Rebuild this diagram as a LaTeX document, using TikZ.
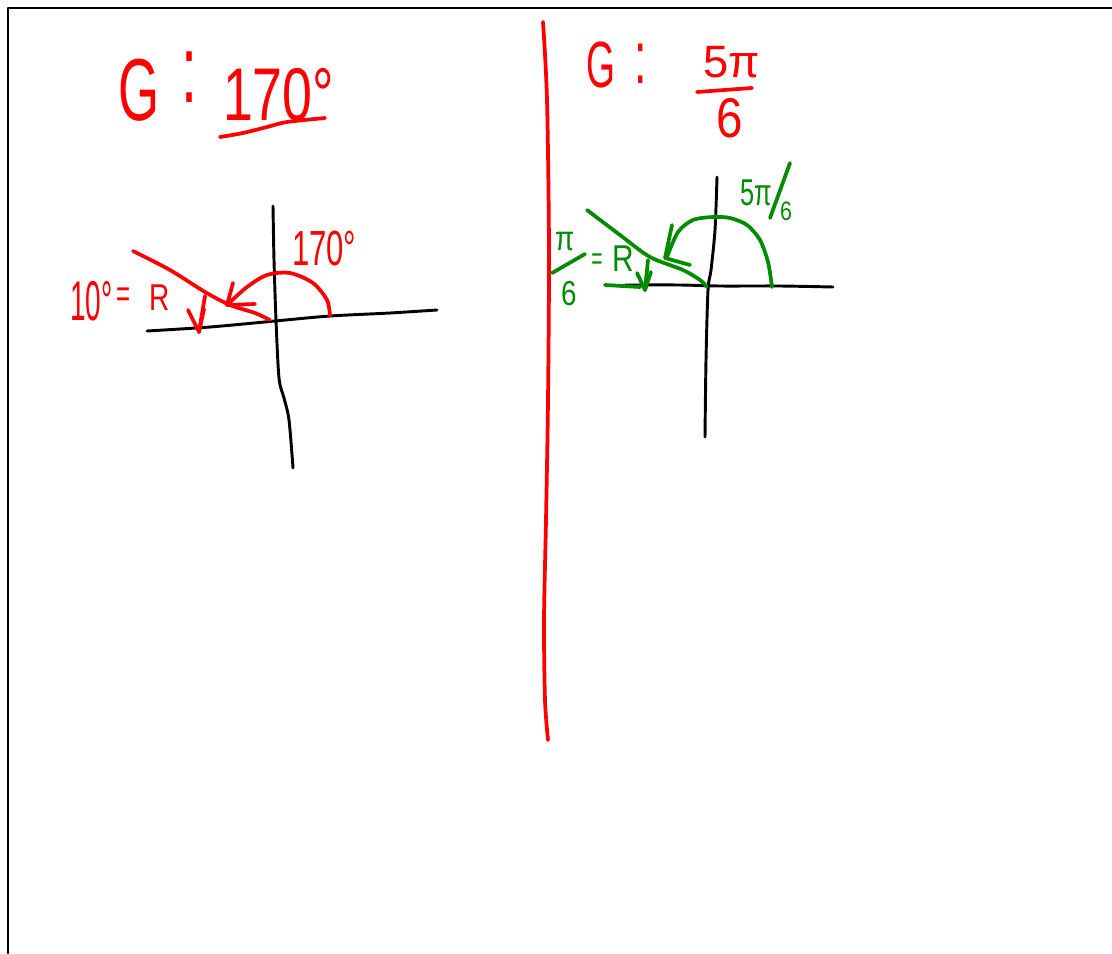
\documentclass[tikz,border=0pt]{standalone}
\usepackage{fontspec}
\setmainfont{Liberation Sans}
\definecolor{penred}{RGB}{255,0,0}
\definecolor{pengreen}{RGB}{0,140,0}
\newcommand\penword[3]{\fontsize{#1}{#1}\selectfont\scalebox{#2}[1]{#3}}
\begin{document}
\begin{tikzpicture}[x=0.75pt,y=-0.75pt,line cap=round,line join=round,
  axis/.style={line width=2.2pt,black},
  frame/.style={line width=1.6pt,black},
  redpen/.style={line width=2.8pt,penred},
  greenpen/.style={line width=2.8pt,pengreen},
  redtext/.style={inner sep=0pt,outer sep=0pt,text=penred},
  greentext/.style={inner sep=0pt,outer sep=0pt,text=pengreen}]
\useasboundingbox (0,0) rectangle (1112,953);
% frame
\draw[frame] (8,953) -- (8,8) -- (1112,8);
% divider
\draw[redpen] plot[smooth] coordinates {(543,22) (547,100) (549,250) (548,400) (546,520) (544,620) (545,700) (548,740)};

% ---------- left half ----------
\node[redtext,anchor=base west] (gL) at (118,120) {\penword{66}{0.6}{G}};
\node[redtext,anchor=base west] (colonL) at (181,102) {\penword{72}{0.6}{:}};
\node[redtext,anchor=base west] (degL) at (223,120) {\penword{56}{0.72}{170°}};
\draw[redpen] plot[smooth] coordinates {(220,137) (243,133) (267,127) (287,122) (325,118)};

\draw[axis] plot[smooth] coordinates {(147,331) (210,327) (275,321) (330,316) (390,313) (437,310)};
\draw[axis] plot[smooth] coordinates {(273,206) (274,260) (276,320) (279,378) (284,398) (289,420) (293,468)};

\draw[redpen] plot[smooth] coordinates {(133,251) (170,270) (205,292) (230,305) (255,313) (270,320)};
\draw[redpen] plot[smooth] coordinates {(330,316) (327,300) (313,283) (290,273) (267,275) (247,287) (227,305)};
\draw[redpen] (233,283) -- (227,305) -- (255,304);
\draw[redpen] (205,296) -- (199,332);
\draw[redpen] (188,310) -- (199,332) -- (204,309);

\node[redtext,anchor=base west] (tenL) at (70,320) {\penword{42}{0.5}{10°}};
\node[redtext] (eqL) at (124,298) {\penword{30}{0.6}{=}};
\node[redtext,anchor=base west] (rL) at (149,310) {\penword{28}{0.75}{R}};
\node[redtext,anchor=base west] (arcL) at (292,265) {\penword{37}{0.63}{170°}};

% ---------- right half ----------
\node[redtext,anchor=base west] (gR) at (586,87) {\penword{49}{0.57}{G}};
\node[redtext,anchor=base west] (colonR) at (634,83) {\penword{56}{0.6}{:}};
\node[redtext,anchor=base west] (numR) at (703,77) {\penword{34}{1}{5π}};
\draw[redpen] (697,92) -- (752,88);
\node[redtext,anchor=base west] (denR) at (716,137) {\penword{42}{0.85}{6}};

\draw[axis] plot[smooth] coordinates {(625,285) (680,285) (720,286) (780,286) (833,287)};
\draw[axis] plot[smooth] coordinates {(717,177) (715,230) (711,270) (708,290) (706,360) (705,437)};

\draw[greenpen] plot[smooth] coordinates {(587,210) (620,235) (650,257) (683,270) (700,280) (707,287)};
\draw[greenpen] plot[smooth] coordinates {(772,287) (768,262) (760,240) (747,225) (730,218) (713,217) (693,220) (678,232) (667,257)};
\draw[greenpen] (672,225) -- (665,258) -- (690,265);
\draw[greenpen] (605,285) -- (640,287);
\draw[greenpen] (648,260) -- (645,290);
\draw[greenpen] (637,273) -- (645,290) -- (651,272);

\node[greentext,anchor=base west] (piG) at (555,250) {\penword{26}{0.8}{π}};
\draw[greenpen] (552,273) -- (585,254);
\node[greentext,anchor=base west] (sixG) at (561,305) {\penword{26}{0.8}{6}};
\node[greentext] (eqG) at (597,262) {\penword{24}{0.6}{=}};
\node[greentext,anchor=base west] (rG) at (612,271) {\penword{28}{0.8}{R}};
\node[greentext,anchor=base west] (arcNum) at (740,205) {\penword{28}{0.68}{5π}};
\draw[greenpen] (790,163) -- (770,218);
\node[greentext,anchor=base west] (arcDen) at (780,220) {\penword{20}{0.8}{6}};
\end{tikzpicture}
\end{document}
